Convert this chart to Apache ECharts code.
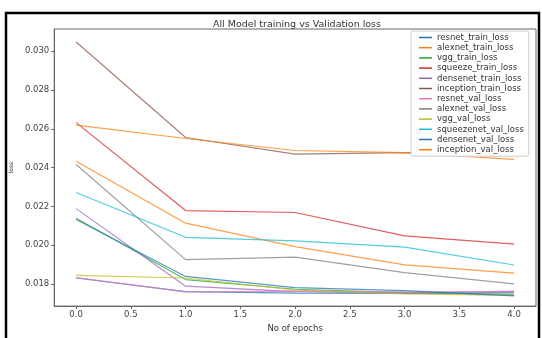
<!DOCTYPE html>
<html>
<head>
<meta charset="utf-8">
<script src="https://cdn.jsdelivr.net/npm/echarts@6/dist/echarts.min.js"></script>
<style>
html,body{margin:0;padding:0;background:#fff;}
#chart{width:542px;height:338px;}
</style>
</head>
<body>
<div id="chart"></div>
<script>
var epochs = [0, 1, 2, 3, 4];
var xTicks = [0, 0.5, 1, 1.5, 2, 2.5, 3, 3.5, 4];
var yTicks = [0.018, 0.020, 0.022, 0.024, 0.026, 0.028, 0.030];

var resnet_train_loss    = [0.01830, 0.01760, 0.01752, 0.01750, 0.01755];
var alexnet_train_loss   = [0.02432, 0.02113, 0.01992, 0.01898, 0.01855];
var vgg_train_loss       = [0.02138, 0.01822, 0.01772, 0.01755, 0.01745];
var squeeze_train_loss   = [0.02632, 0.02178, 0.02168, 0.02047, 0.02005];
var densenet_train_loss  = [0.02188, 0.01788, 0.01760, 0.01752, 0.01762];
var inception_train_loss = [0.03048, 0.02555, 0.02469, 0.02477, 0.02475];
var resnet_val_loss      = [0.01832, 0.01758, 0.01762, 0.01758, 0.01758];
var alexnet_val_loss     = [0.02416, 0.01925, 0.01938, 0.01858, 0.01800];
var vgg_val_loss         = [0.01844, 0.01830, 0.01768, 0.01748, 0.01740];
var squeezenet_val_loss  = [0.02271, 0.02040, 0.02022, 0.01989, 0.01897];
var densenet_val_loss    = [0.02132, 0.01838, 0.01780, 0.01765, 0.01738];
var inception_val_loss   = [0.02619, 0.02550, 0.02488, 0.02477, 0.02442];

var seriesNames = ['resnet_train_loss','alexnet_train_loss','vgg_train_loss','squeeze_train_loss',
  'densenet_train_loss','inception_train_loss','resnet_val_loss','alexnet_val_loss','vgg_val_loss',
  'squeezenet_val_loss','densenet_val_loss','inception_val_loss'];
var seriesData = [resnet_train_loss, alexnet_train_loss, vgg_train_loss, squeeze_train_loss,
  densenet_train_loss, inception_train_loss, resnet_val_loss, alexnet_val_loss, vgg_val_loss,
  squeezenet_val_loss, densenet_val_loss, inception_val_loss];
var colors = ['#1f77b4','#ff7f0e','#2ca02c','#d62728','#9467bd','#8c564b','#e377c2','#7f7f7f','#bcbd22','#17becf','#1f77b4','#ff7f0e'];

var series = seriesNames.map(function(n, i){
  return {
    name: n, type: 'line', symbol: 'none', showSymbol: false,
    data: epochs.map(function(e, j){ return [e, seriesData[i][j]]; }),
    lineStyle: {width: 1.2, color: colors[i], opacity: 0.75},
    itemStyle: {color: colors[i]},
    animation: false
  };
});

var chart = echarts.init(document.getElementById('chart'));
chart.setOption({
  backgroundColor: '#fff',
  animation: false,
  color: colors,
  title: {
    text: 'All Model training vs Validation loss',
    left: 292, top: 15, textAlign: 'center',
    textStyle: {fontFamily: 'DejaVu Sans', fontSize: 9.5, fontWeight: 'normal', color: '#333'}
  },
  grid: {left: 49, right: 6, top: 29, bottom: 21, show: true, borderColor: '#666', borderWidth: 1, backgroundColor: 'transparent'},
  legend: {
    orient: 'vertical', left: 411, top: 31,
    padding: [2, 5, 2, 8], itemGap: 1.2, itemWidth: 13, itemHeight: 1.5,
    icon: 'rect',
    borderColor: '#ccc', borderWidth: 1, borderRadius: 2, backgroundColor: '#fff',
    textStyle: {fontFamily: 'DejaVu Sans', fontSize: 8.5, lineHeight: 8.5, color: '#333'},
    data: seriesNames
  },
  xAxis: {
    type: 'value', min: -0.2, max: 4.2,
    name: 'No of epochs', nameLocation: 'middle', nameGap: 15,
    nameTextStyle: {fontFamily: 'DejaVu Sans', fontSize: 8.5, color: '#333'},
    axisLine: {show: true, onZero: false, lineStyle: {color: '#666'}},
    axisTick: {show: true, customValues: xTicks, length: 3, lineStyle: {color: '#666'}},
    axisLabel: {customValues: xTicks, fontFamily: 'DejaVu Sans', fontSize: 8.5, color: '#444', margin: 4,
      formatter: function(v){ return v.toFixed(1); }},
    splitLine: {show: false}
  },
  yAxis: {
    type: 'value', min: 0.01685, max: 0.03115,
    name: 'loss', nameLocation: 'middle', nameGap: 37, nameRotate: 90,
    nameTextStyle: {fontFamily: 'DejaVu Sans', fontSize: 6, color: '#333'},
    axisLine: {show: true, onZero: false, lineStyle: {color: '#666'}},
    axisTick: {show: true, customValues: yTicks, length: 3, lineStyle: {color: '#666'}},
    axisLabel: {customValues: yTicks, fontFamily: 'DejaVu Sans', fontSize: 8.5, color: '#444', margin: 5,
      formatter: function(v){ return v.toFixed(3); }},
    splitLine: {show: false}
  },
  graphic: [{
    type: 'rect', shape: {x: 6, y: 13, width: 533, height: 340},
    style: {fill: 'none', stroke: '#000', lineWidth: 2.5}, silent: true, z: 100
  }],
  series: series
});
</script>
</body>
</html>
